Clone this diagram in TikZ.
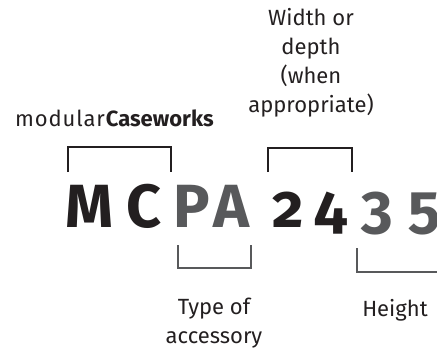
\documentclass[tikz,border=0pt]{standalone}
\usepackage{fontspec}
\setmainfont{Fira Sans}[Numbers=OldStyle]
\definecolor{ink}{HTML}{231F20}
\definecolor{mid}{HTML}{58595B}
\begin{document}
\begin{tikzpicture}[x=1pt,y=-1pt,
  big/.style={font=\fontsize{61}{61}\selectfont\bfseries, inner sep=0pt, anchor=base},
  lbl/.style={font=\fontsize{22}{29}\selectfont, inner sep=0pt, text=ink, align=center},
  brk/.style={line width=1.5pt, ink},
  brkg/.style={line width=1.5pt, mid}]
\useasboundingbox (0,0) rectangle (437,348);
% big code letters
\node[big, text=ink] (M) at (89,227) {M};
\node[big, text=ink] (C) at (144,227) {C};
\node[big, text=mid] (P) at (192,227) {P};
\node[big, text=mid] (A) at (231,227) {A};
\node[big, text=ink] (d2) at (288,227) {2};
\node[big, text=ink] (d4) at (331,227) {4};
\node[big, text=mid] (d3) at (377,227) {3};
\node[big, text=mid] (d5) at (425,227) {5};
% labels
\node[lbl, anchor=base west] (brand) at (15,126) {{\addfontfeature{LetterSpace=4}modular}\textbf{Caseworks}};
\node[lbl, anchor=base] (wd) at (311,112) {Width or\\depth\\(when\\appropriate)};
\node[lbl, anchor=base] (type) at (214,343) {Type of\\accessory};
\node[lbl, anchor=base] (height) at (395,316) {Height};
% brackets
\draw[brk] (68,172) -- (68,147) -- (171,147) -- (171,172);
\draw[brk] (268,172) -- (268,148) -- (352,148) -- (352,172);
\draw[brkg] (178,245) -- (178,268) -- (251,268) -- (251,245);
\draw[brkg] (357,248) -- (357,272) -- (437,272);
\end{tikzpicture}
\end{document}
